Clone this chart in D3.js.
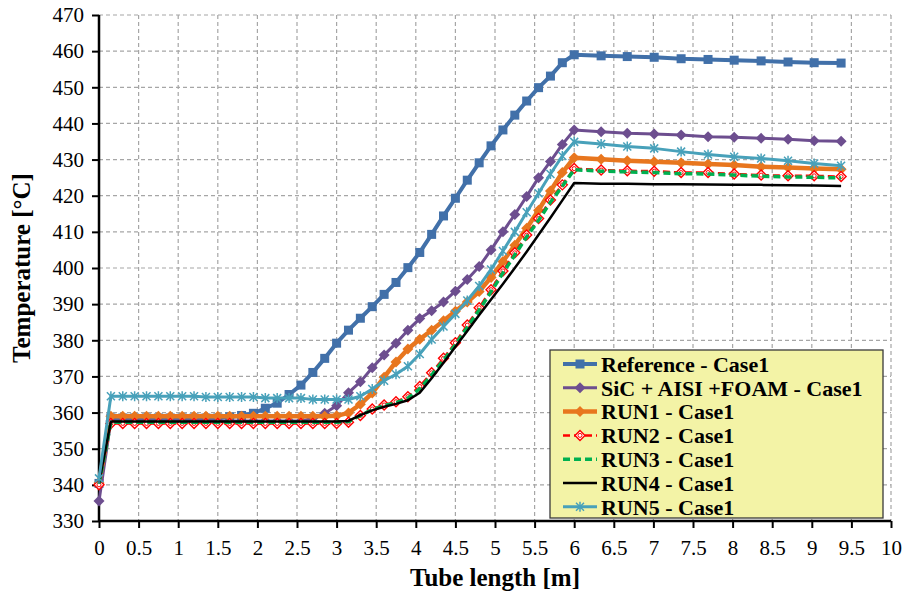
<!DOCTYPE html>
<html>
<head>
<meta charset="utf-8">
<script src="https://cdn.jsdelivr.net/npm/d3@7/dist/d3.min.js"></script>
<style>
html,body{margin:0;padding:0;background:#fff;}
svg{display:block;}
svg text{font-family:"Liberation Serif","Tinos","Times New Roman","Times","Nimbus Roman","Nimbus Roman No9 L","FreeSerif","Noto Serif","DejaVu Serif",serif;}
</style>
</head>
<body>
<svg id="chart" width="903" height="591"></svg>
<script>
// ---------- DATA ----------
const xValues = [0,0.15,0.3,0.45,0.6,0.75,0.9,1.05,1.2,1.35,1.5,1.65,1.8,1.95,2.1,2.25,2.4,2.55,2.7,2.85,3.0,
  3.15,3.3,3.45,3.6,3.75,3.9,4.05,4.2,4.35,4.5,4.65,4.8,4.95,5.1,5.25,5.4,5.55,5.7,5.85,6.0,
  6.34,6.67,7.01,7.35,7.69,8.02,8.36,8.70,9.03,9.37];

const reference = [340.4,
  358.5,358.5,358.5,358.5,358.5,358.5,358.5,358.5,358.5,358.5,
  358.8,359.2,359.8,361.2,362.6,365.0,367.6,371.1,375.0,379.2,
  382.8,386.1,389.3,392.7,396.0,400.1,404.3,409.3,414.4,419.3,
  424.3,429.1,433.8,438.2,442.3,446.2,449.9,453.1,456.8,459.0,
  458.7,458.5,458.3,457.9,457.7,457.5,457.3,457.0,456.8,456.7];

const sicAisiFoam = [335.5,
  357.7,357.7,357.7,357.7,357.7,357.7,357.7,357.7,357.7,357.7,
  357.7,357.7,357.7,357.7,357.7,357.7,357.7,
  358.4,359.8,361.9,365.5,368.5,372.4,375.9,379.2,382.8,386.0,
  388.2,390.6,393.6,396.8,400.4,405.0,410.0,414.8,419.8,425.0,
  429.5,434.2,438.2,
  437.7,437.3,437.1,436.8,436.3,436.2,435.9,435.6,435.2,435.1];

const run1 = [340.5,
  359.0,359.0,359.0,359.0,359.0,359.0,359.0,359.0,359.0,359.0,
  359.0,359.0,359.0,359.0,359.0,359.0,359.0,359.0,359.0,
  359.1,359.9,362.3,365.4,369.8,374.0,377.6,380.3,382.8,385.4,
  388.0,390.6,393.5,397.4,401.8,406.3,411.0,416.0,421.3,426.4,430.5,
  430.1,429.7,429.4,429.1,428.8,428.5,428.0,427.8,427.5,427.3];

const run2 = [340.0,
  357.0,357.0,357.0,357.0,357.0,357.0,357.0,357.0,357.0,357.0,
  357.0,357.0,357.0,357.0,357.0,357.0,357.0,357.0,357.0,357.0,
  357.3,359.2,361.0,362.1,363.0,364.4,367.2,371.0,375.0,379.3,
  384.2,389.0,394.0,399.2,404.2,409.1,413.7,418.8,423.0,427.5,
  427.1,426.9,426.8,426.4,426.4,426.0,425.7,425.5,425.5,425.3];

const run3 = [340.3,
  357.3,357.3,357.3,357.3,357.3,357.3,357.3,357.3,357.3,357.3,
  357.3,357.3,357.3,357.3,357.3,357.3,357.3,357.3,357.3,357.3,
  357.5,359.2,360.8,361.9,362.7,364.0,366.6,370.4,374.5,378.8,
  383.6,388.4,393.4,398.6,403.6,408.6,413.2,418.2,422.6,427.2,
  426.8,426.6,426.4,426.1,426.0,425.7,425.4,425.2,425.1,424.9];

const run4 = [340.5,
  357.5,357.5,357.5,357.5,357.5,357.5,357.5,357.5,357.5,357.5,
  357.5,357.5,357.5,357.5,357.5,357.5,357.5,357.5,357.5,357.5,
  357.7,359.3,360.6,361.6,362.4,363.4,365.5,369.5,373.8,378.2,
  382.6,387.0,391.3,395.6,400.0,404.5,409.2,413.9,418.7,423.5,
  423.3,423.3,423.2,423.2,423.1,423.0,423.0,422.9,422.8,422.7];

const run5 = [341.8,
  364.5,364.5,364.5,364.5,364.5,364.5,364.5,364.5,
  364.3,364.3,364.3,364.3,364.3,
  364.0,364.0,364.0,364.0,
  363.6,363.6,363.6,363.6,
  364.5,366.5,368.8,370.6,372.8,376.2,380.2,383.8,387.3,391.0,
  395.0,399.6,404.7,410.0,415.4,420.7,426.0,431.0,434.9,
  434.3,433.6,433.1,432.2,431.4,430.8,430.3,429.7,428.9,428.3];

const seriesNames = ["Reference - Case1","SiC + AISI +FOAM - Case1","RUN1 - Case1","RUN2 - Case1","RUN3 - Case1","RUN4 - Case1","RUN5 - Case1"];
const xTicks = [0,0.5,1,1.5,2,2.5,3,3.5,4,4.5,5,5.5,6,6.5,7,7.5,8,8.5,9,9.5,10];
const yTicks = [330,340,350,360,370,380,390,400,410,420,430,440,450,460,470];
const xTitle = "Tube length [m]";
const yTitle = "Temperature [°C]";

// ---------- STYLE ----------
const styles = [
  {values: reference,   color: "#4170A9", width: 4,   dash: null,  marker: "square"},
  {values: sicAisiFoam, color: "#6D4E8F", width: 3,   dash: null,  marker: "diamond"},
  {values: run1,        color: "#E8761E", width: 4.5, dash: null,  marker: "diamond"},
  {values: run2,        color: "#FF0000", width: 2.5, dash: "7,4", marker: "opendiamond"},
  {values: run3,        color: "#00B050", width: 3.5, dash: "7,4", marker: null},
  {values: run4,        color: "#000000", width: 2.5, dash: null,  marker: null},
  {values: run5,        color: "#48A1BA", width: 3,   dash: null,  marker: "star"}
];

const svg = d3.select("#chart");
const plot = {left: 99, right: 891, top: 15, bottom: 521};
const x = d3.scaleLinear().domain([0,10]).range([plot.left, plot.right]);
const y = d3.scaleLinear().domain([330,470]).range([plot.bottom, plot.top]);

// grid
const grid = svg.append("g");
grid.selectAll("line.v").data(xTicks.slice(1)).enter().append("line")
  .attr("x1", d=>x(d)).attr("x2", d=>x(d)).attr("y1", plot.top).attr("y2", plot.bottom)
  .attr("stroke","#a6a6a6").attr("stroke-width",1.2).attr("stroke-dasharray","4,3");
grid.selectAll("line.h").data(yTicks.slice(1)).enter().append("line")
  .attr("x1", plot.left).attr("x2", plot.right).attr("y1", d=>y(d)).attr("y2", d=>y(d))
  .attr("stroke","#a6a6a6").attr("stroke-width",1.2).attr("stroke-dasharray","4,3");

// axes
const xAxis = d3.axisBottom(x).tickValues(xTicks).tickSize(7).tickPadding(12).tickFormat(d3.format("~g"));
const yAxis = d3.axisLeft(y).tickValues(yTicks).tickSize(7).tickPadding(8).tickFormat(d3.format("d"));
const gx = svg.append("g").attr("transform", `translate(0,${plot.bottom})`).call(xAxis);
const gy = svg.append("g").attr("transform", `translate(${plot.left},0)`).call(yAxis);
[gx, gy].forEach(g => {
  g.attr("font-family", null).attr("font-size", null);
  g.select(".domain").attr("stroke","#000").attr("stroke-width",2.5);
  g.selectAll(".tick line").attr("stroke","#000").attr("stroke-width",2);
  g.selectAll(".tick text").style("font-size", "21px").attr("fill","#000");
});
gx.select(".domain").attr("d", `M${plot.left},0H${plot.right}`);
gy.select(".domain").attr("d", `M0,${plot.top}V${plot.bottom}`);

// titles
svg.append("text").attr("x", (plot.left+plot.right)/2).attr("y", 586)
  .attr("text-anchor","middle").attr("font-weight","bold")
  .style("font-size", "25px").text(xTitle);
svg.append("text").attr("transform", `translate(30,${(plot.top+plot.bottom)/2}) rotate(-90)`)
  .attr("text-anchor","middle").attr("font-weight","bold")
  .style("font-size", "25px").text(yTitle);

// marker drawing
function drawMarker(g, type, color) {
  if (type === "square") {
    g.append("rect").attr("x",-4.5).attr("y",-4.5).attr("width",9).attr("height",9).attr("fill",color);
  } else if (type === "diamond") {
    g.append("path").attr("d","M0,-5.5L5.5,0L0,5.5L-5.5,0Z").attr("fill",color);
  } else if (type === "opendiamond") {
    g.append("path").attr("d","M0,-5L5,0L0,5L-5,0Z").attr("fill","#fff").attr("stroke",color).attr("stroke-width",1.4);
    g.append("circle").attr("r",2).attr("fill","none").attr("stroke",color).attr("stroke-width",1);
  } else if (type === "star") {
    const r = 5;
    g.append("path").attr("d",`M0,${-r}V${r}M${-r*0.8},${-r*0.8}L${r*0.8},${r*0.8}M${-r*0.8},${r*0.8}L${r*0.8},${-r*0.8}`)
      .attr("stroke",color).attr("stroke-width",1.5).attr("fill","none");
  }
}

// series
const line = d3.line().x((d,i)=>x(xValues[i])).y(d=>y(d));
styles.forEach(s => {
  const g = svg.append("g");
  g.append("path").attr("d", line(s.values)).attr("fill","none")
    .attr("stroke", s.color).attr("stroke-width", s.width)
    .attr("stroke-dasharray", s.dash).attr("stroke-linejoin","round");
  if (s.marker) {
    s.values.forEach((v,i) => {
      const m = g.append("g").attr("transform", `translate(${x(xValues[i])},${y(v)})`);
      drawMarker(m, s.marker, s.color);
    });
  }
});

// legend
const lg = svg.append("g");
lg.append("rect").attr("x",550).attr("y",350).attr("width",333).attr("height",168)
  .attr("fill","#F3F3A6").attr("stroke","#3a3a3a").attr("stroke-width",1.3);
seriesNames.forEach((name,i) => {
  const cy = 364 + i*23.8;
  const s = styles[i];
  lg.append("line").attr("x1",563).attr("x2",597).attr("y1",cy).attr("y2",cy)
    .attr("stroke",s.color).attr("stroke-width",s.width).attr("stroke-dasharray",s.dash);
  if (s.marker) {
    const m = lg.append("g").attr("transform",`translate(580,${cy})`);
    drawMarker(m, s.marker, s.color);
  }
  lg.append("text").attr("x",601).attr("y",cy).attr("dy","0.35em")
    .attr("font-weight","bold").style("font-size","22px").text(name);
});
</script>
</body>
</html>
